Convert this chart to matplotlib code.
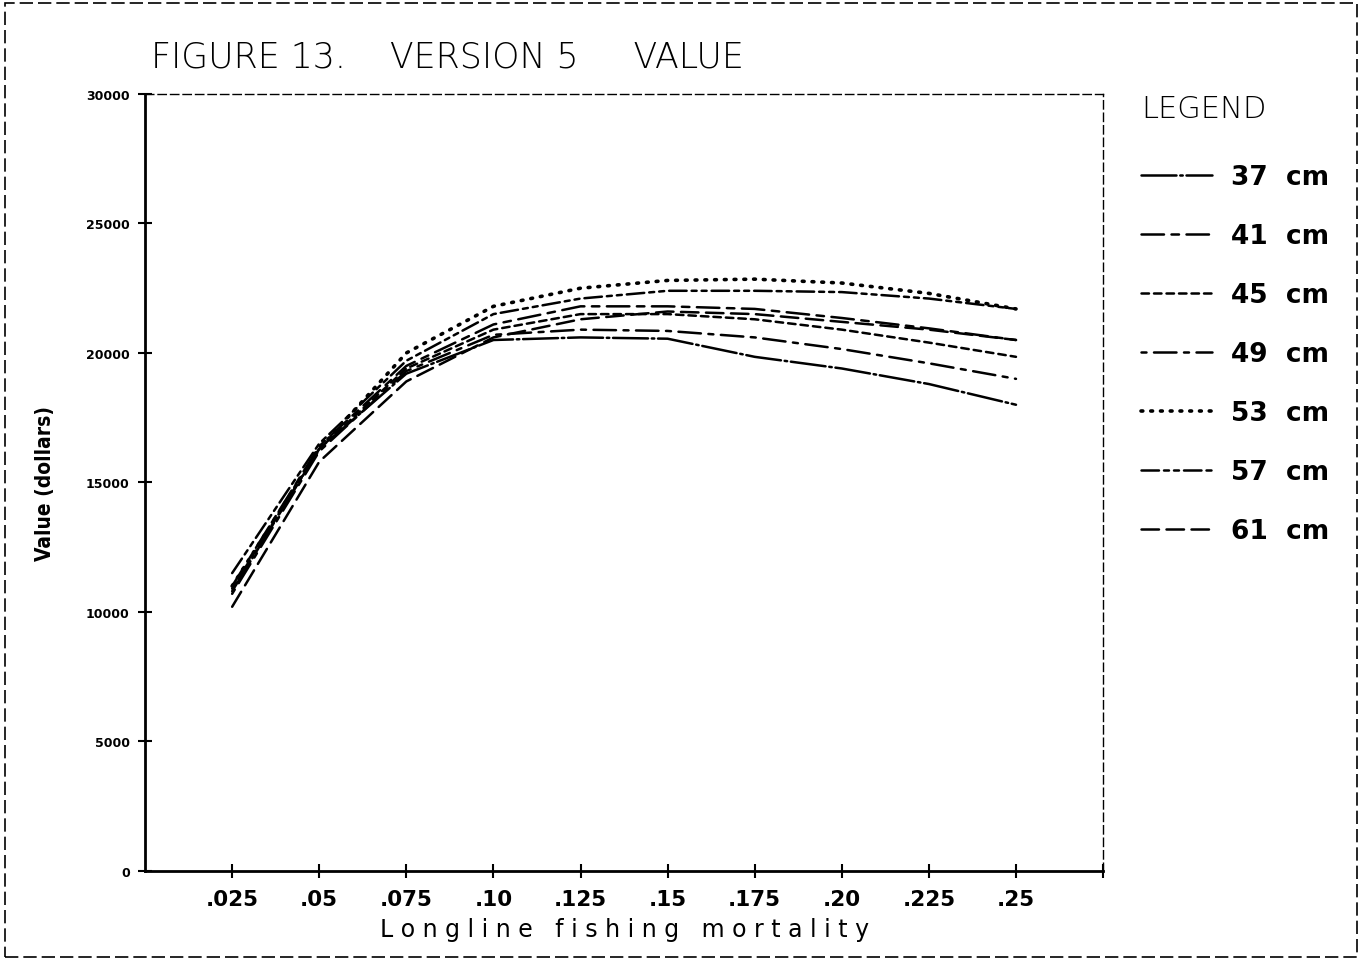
import matplotlib
matplotlib.use("Agg")
import matplotlib.pyplot as plt
from matplotlib import patches

# Longline fishing mortality (x) and value in dollars for each size limit
mortality = [0.025, 0.05, 0.075, 0.10, 0.125, 0.15, 0.175, 0.20, 0.225, 0.25]
tick_labels = ['.025', '.05', '.075', '.10', '.125', '.15', '.175', '.20', '.225', '.25', '']

v37 = [10800, 16300, 19200, 20500, 20600, 20550, 19850, 19400, 18800, 18000]
v41 = [11000, 16400, 19500, 21100, 21800, 21800, 21700, 21350, 20950, 20500]
v45 = [10900, 16300, 19400, 20900, 21500, 21500, 21300, 20900, 20400, 19850]
v49 = [10700, 16200, 19300, 20700, 20900, 20850, 20600, 20150, 19600, 19000]
v53 = [11000, 16300, 20000, 21800, 22500, 22800, 22850, 22700, 22300, 21700]
v57 = [11500, 16500, 19700, 21500, 22100, 22400, 22400, 22350, 22100, 21700]
v61 = [10200, 15800, 18900, 20600, 21300, 21600, 21500, 21200, 20900, 20500]

series = [('37  cm', v37, (14, 1.5, 1, 1.5), 1.8),
          ('41  cm', v41, (9, 3, 3, 3), 1.8),
          ('45  cm', v45, (3, 2), 1.8),
          ('49  cm', v49, (2, 3, 9, 3), 1.8),
          ('53  cm', v53, (0.5, 2.2), 2.6),
          ('57  cm', v57, (7, 2, 2, 2, 2, 2), 1.8),
          ('61  cm', v61, (7, 3), 1.8)]

fig = plt.figure(figsize=(13.62, 9.62), dpi=100)
ax = fig.add_axes([0.1065, 0.0936, 0.7034, 0.8077])

for label, vals, dash, lw in series:
    ax.plot(mortality, vals, color='black', lw=lw, dashes=dash,
            dash_capstyle='round', label=label)

ax.set_xlim(0, 0.275)
ax.set_ylim(0, 30000)
ax.set_xticks(mortality + [0.275])
ax.set_xticklabels(tick_labels, fontsize=15.5, fontweight='bold')
ax.set_yticks(range(0, 30001, 5000))
ax.set_yticklabels([str(v) for v in range(0, 30001, 5000)], fontsize=9, fontweight='bold')
ax.tick_params(direction='inout', length=10, width=1.5, pad=6)
ax.tick_params(axis='x', pad=8)

ax.spines['left'].set_linewidth(2)
ax.spines['bottom'].set_linewidth(2)
for side in ['top', 'right']:
    ax.spines[side].set_linewidth(1)
    ax.spines[side].set_linestyle((0, (6, 3)))

ax.set_xlabel('L o n g l i n e   f i s h i n g   m o r t a l i t y', fontsize=17, labelpad=6)
ax.set_ylabel('Value (dollars)', fontsize=15, fontweight='bold', fontstretch='condensed',
              labelpad=22)

fig.text(0.111, 0.93, 'FIGURE 13.    VERSION 5     VALUE', fontsize=25, fontweight='light')

leg = ax.legend(loc='upper left', bbox_to_anchor=(1.015, 1.031), frameon=False,
                handlelength=2.7, handletextpad=0.7, labelspacing=1.25,
                prop={'size': 19, 'weight': 'bold'}, title='LEGEND',
                title_fontsize=22, alignment='left')
leg.get_title().set_fontweight('light')
leg._legend_box.sep = 30

# dashed border round the whole page
fig.patches.append(patches.Rectangle((0.004, 0.004), 0.992, 0.992, transform=fig.transFigure,
                                     fill=False, lw=1.2, ls=(0, (8, 3)), color='black'))

fig.savefig('out.png', dpi=100)
